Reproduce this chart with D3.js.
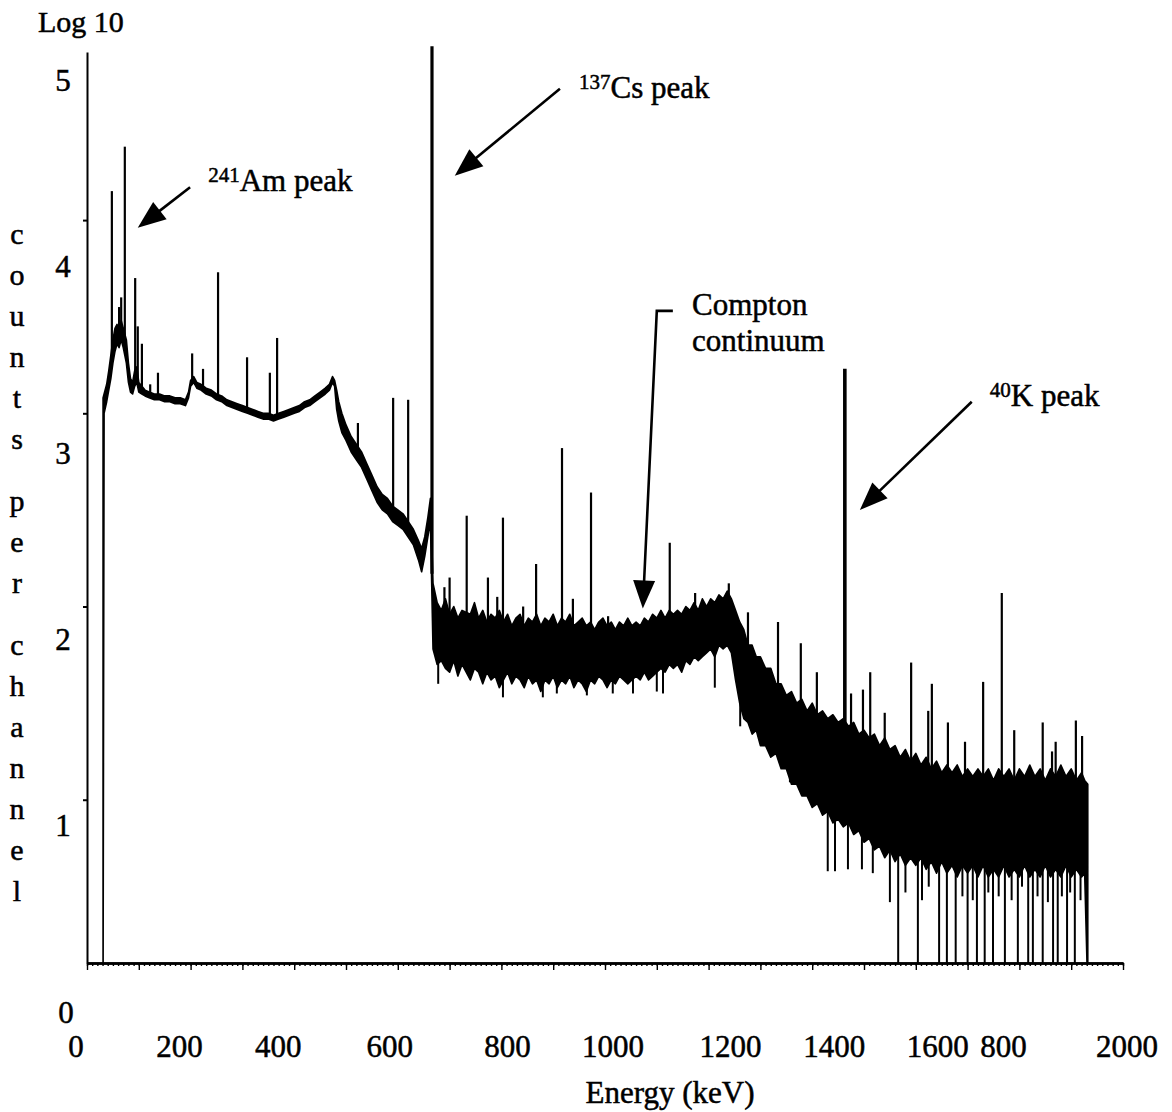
<!DOCTYPE html>
<html>
<head>
<meta charset="utf-8">
<script src="https://cdn.jsdelivr.net/npm/d3@7"></script>
<style>
  html, body { margin: 0; padding: 0; background: #fff; }
  svg { display: block; }
  text { font-family: "Liberation Serif", "Times New Roman", serif; fill: #000; stroke: #000; stroke-width: 0.5px; }
</style>
</head>
<body>
<svg id="chart" width="1172" height="1112"></svg>
<script>
// Spectrum: energy (keV) and log10 counts per channel.
// The noisy trace is kept as an upper and lower edge of the black band.
const bandE = [31, 33, 38, 42, 46, 50, 54, 58, 62, 66, 70, 76, 80, 84, 88, 92, 96, 100, 106, 112,
  120, 130, 140, 150, 160, 170, 180, 190, 196, 200, 206, 212, 220, 230, 240, 250, 260, 270, 280, 290,
  300, 310, 320, 330, 340, 350, 360, 370, 380, 390, 400, 410, 420, 430, 440, 450, 460, 468, 474, 478,
  482, 486, 492, 500, 510, 520, 530, 540, 550, 560, 570, 580, 590, 600, 610, 620, 630, 640, 646, 652,
  658, 663, 668, 676, 684, 692, 700, 708, 716, 724, 740, 748, 756, 764, 772, 780, 788, 796, 804, 812,
  820, 828, 836, 844, 852, 860, 868, 876, 884, 892, 900, 908, 916, 924, 932, 940, 948, 956, 964, 972,
  980, 988, 996, 1004, 1012, 1020, 1028, 1036, 1044, 1052, 1060, 1068, 1076, 1084, 1092, 1100, 1108, 1116, 1124, 1132,
  1140, 1148, 1156, 1164, 1172, 1180, 1188, 1196, 1204, 1212, 1220, 1228, 1236, 1244, 1252, 1260, 1268, 1276, 1284, 1292,
  1300, 1310, 1320, 1330, 1340, 1350, 1360, 1370, 1380, 1390, 1400, 1410, 1420, 1430, 1440, 1450, 1460, 1470, 1480, 1490,
  1500, 1510, 1520, 1530, 1540, 1550, 1560, 1570, 1580, 1590, 1600, 1610, 1620, 1630, 1640, 1650, 1660, 1670, 1680, 1690,
  1700, 1710, 1720, 1730, 1740, 1750, 1760, 1770, 1780, 1790, 1800, 1810, 1820, 1830, 1840, 1850, 1860, 1870, 1880, 1890,
  1900, 1910, 1920, 1926, 1932];
const bandHi = [3.08, 3.10, 3.15, 3.22, 3.30, 3.38, 3.44, 3.46, 3.42, 3.48, 3.44, 3.38, 3.26, 3.18, 3.16, 3.22, 3.24, 3.16, 3.14, 3.12,
  3.11, 3.10, 3.10, 3.09, 3.09, 3.08, 3.08, 3.07, 3.11, 3.17, 3.19, 3.16, 3.15, 3.13, 3.12, 3.10, 3.09, 3.07, 3.06, 3.05,
  3.04, 3.03, 3.02, 3.01, 3.00, 3.00, 2.99, 3.00, 3.01, 3.02, 3.03, 3.04, 3.06, 3.07, 3.09, 3.11, 3.13, 3.15, 3.19, 3.17,
  3.12, 3.06, 3.00, 2.94, 2.88, 2.84, 2.80, 2.74, 2.68, 2.62, 2.58, 2.56, 2.52, 2.50, 2.48, 2.44, 2.40, 2.34, 2.30, 2.36,
  2.46, 2.56, 2.12, 2.02, 1.98, 2.04, 1.96, 2.00, 1.94, 1.98, 1.96, 2.02, 1.94, 1.98, 1.92, 1.96, 1.94, 1.98, 1.92, 1.96,
  1.90, 1.94, 1.96, 1.90, 1.94, 1.92, 1.96, 1.90, 1.94, 1.92, 1.96, 1.90, 1.94, 1.92, 1.96, 1.90, 1.92, 1.94, 1.90, 1.92,
  1.88, 1.92, 1.94, 1.90, 1.92, 1.88, 1.92, 1.90, 1.94, 1.90, 1.92, 1.90, 1.94, 1.92, 1.96, 1.94, 1.98, 1.94, 1.98, 1.96,
  1.98, 1.96, 2.00, 1.98, 2.02, 1.98, 2.04, 2.00, 2.04, 2.02, 2.06, 2.04, 2.08, 2.04, 1.98, 1.92, 1.88, 1.80, 1.80, 1.74,
  1.74, 1.68, 1.68, 1.60, 1.60, 1.54, 1.56, 1.50, 1.52, 1.46, 1.50, 1.44, 1.46, 1.42, 1.44, 1.40, 1.42, 1.38, 1.40, 1.34,
  1.36, 1.32, 1.34, 1.28, 1.32, 1.26, 1.28, 1.22, 1.26, 1.20, 1.24, 1.18, 1.22, 1.16, 1.20, 1.14, 1.18, 1.14, 1.18, 1.12,
  1.16, 1.12, 1.16, 1.12, 1.16, 1.10, 1.16, 1.12, 1.16, 1.10, 1.16, 1.12, 1.18, 1.12, 1.16, 1.10, 1.16, 1.12, 1.18, 1.12,
  1.16, 1.10, 1.14, 1.10, 1.08];
const bandLo = [0.00, 3.00, 3.06, 3.12, 3.18, 3.26, 3.32, 3.36, 3.34, 3.38, 3.34, 3.26, 3.16, 3.11, 3.10, 3.14, 3.16, 3.11, 3.10, 3.09,
  3.08, 3.07, 3.07, 3.06, 3.06, 3.05, 3.05, 3.04, 3.08, 3.14, 3.16, 3.13, 3.12, 3.10, 3.09, 3.07, 3.06, 3.04, 3.03, 3.02,
  3.01, 3.00, 2.99, 2.98, 2.97, 2.97, 2.96, 2.97, 2.98, 2.99, 3.00, 3.01, 3.03, 3.04, 3.06, 3.08, 3.10, 3.12, 3.16, 3.14,
  3.02, 2.96, 2.90, 2.86, 2.80, 2.76, 2.72, 2.66, 2.60, 2.54, 2.50, 2.48, 2.44, 2.42, 2.40, 2.36, 2.32, 2.24, 2.18, 2.26,
  2.36, 2.44, 1.78, 1.70, 1.72, 1.68, 1.66, 1.72, 1.64, 1.70, 1.62, 1.68, 1.66, 1.60, 1.66, 1.62, 1.64, 1.58, 1.62, 1.66,
  1.60, 1.64, 1.62, 1.58, 1.64, 1.60, 1.62, 1.56, 1.62, 1.60, 1.64, 1.58, 1.62, 1.60, 1.64, 1.58, 1.62, 1.60, 1.56, 1.62,
  1.60, 1.64, 1.62, 1.58, 1.62, 1.60, 1.64, 1.62, 1.60, 1.62, 1.64, 1.62, 1.66, 1.62, 1.64, 1.66, 1.68, 1.66, 1.70, 1.68,
  1.70, 1.66, 1.72, 1.70, 1.74, 1.72, 1.74, 1.76, 1.78, 1.74, 1.80, 1.78, 1.80, 1.76, 1.62, 1.50, 1.42, 1.40, 1.34, 1.36,
  1.28, 1.28, 1.22, 1.24, 1.16, 1.16, 1.08, 1.08, 1.02, 1.02, 0.96, 0.98, 0.92, 0.94, 0.88, 0.90, 0.86, 0.88, 0.82, 0.84,
  0.78, 0.80, 0.74, 0.76, 0.70, 0.74, 0.68, 0.72, 0.66, 0.70, 0.66, 0.70, 0.64, 0.68, 0.62, 0.68, 0.62, 0.66, 0.60, 0.66,
  0.62, 0.66, 0.60, 0.66, 0.60, 0.64, 0.60, 0.66, 0.60, 0.64, 0.60, 0.66, 0.60, 0.64, 0.60, 0.66, 0.60, 0.64, 0.60, 0.66,
  0.60, 0.64, 0.60, 0.62, 0.00];

// Peaks rising out of the trace
const peakE = [48, 62, 66, 73, 93, 98, 106, 122, 137, 203, 224, 253, 309, 353, 367, 523, 591, 620,
  666, 690, 700, 733, 774, 792, 803, 842, 867, 917, 938, 973, 1006, 1125, 1174, 1239,
  1276, 1334, 1378, 1409, 1463, 1475, 1498, 1512, 1540, 1591, 1624, 1631, 1662, 1695, 1730, 1766,
  1790, 1845, 1863, 1870, 1909, 1921];
const peakV = [4.15, 3.55, 3.60, 4.38, 3.70, 3.45, 3.36, 3.15, 3.21, 3.31, 3.23, 3.73, 3.29, 3.21, 3.39, 2.95, 3.08, 3.07,
  4.90, 2.10, 2.15, 2.47, 2.15, 2.05, 2.46, 2.00, 2.22, 2.82, 2.04, 2.59, 1.95, 2.33, 2.07, 2.12,
  1.97, 1.92, 1.81, 1.66, 3.23, 1.55, 1.57, 1.66, 1.45, 1.71, 1.46, 1.60, 1.40, 1.30, 1.61, 2.07,
  1.36, 1.40, 1.25, 1.30, 1.41, 1.33];

// Downward drops of the trace (0 means down to the axis)
const dipE = [678, 803, 880, 907, 965, 1015, 1054, 1100, 1112, 1212, 1261, 1303, 1357, 1376, 1402,
  1430, 1444, 1469, 1496, 1517, 1550, 1566, 1580, 1604, 1612, 1625, 1645, 1660, 1677, 1690, 1700,
  1710, 1718, 1733, 1740, 1749, 1760, 1772, 1785, 1797, 1805, 1817, 1826, 1835, 1845, 1855, 1865,
  1874, 1882, 1892, 1898, 1907, 1918];
const dipV = [1.60, 1.53, 1.53, 1.55, 1.54, 1.55, 1.55, 1.56, 1.55, 1.58, 1.38, 1.32, 1.09, 1.05, 0.98,
  0.63, 0.63, 0.64, 0.64, 0.62, 0.47, 0, 0.52, 0, 0.48, 0.55, 0, 0, 0, 0.50, 0,
  0.48, 0, 0, 0.52, 0, 0.50, 0, 0.48, 0, 0.55, 0, 0, 0.50, 0, 0.47, 0,
  0, 0.50, 0, 0.52, 0, 0.48];

// Axis labels as printed (the 1800 tick reads "800" in the original)
const xTickVals = [0, 200, 400, 600, 800, 1000, 1200, 1400, 1600, 1800, 2000];
const xTickText = ['0', '200', '400', '600', '800', '1000', '1200', '1400', '1600', '800', '2000'];
const yTickVals = [0, 1, 2, 3, 4, 5];
const yTickText = ['0', '1', '2', '3', '4', '5'];

// Annotations, placed in data units (keV, log10)
const notes = [
  { sup: '241', txt: 'Am peak', at: [234, 4.15], tail: [199, 4.17], tip: [98, 3.96] },
  { sup: '137', txt: 'Cs peak', at: [950, 4.63], tail: [913, 4.68], tip: [710, 4.23] },
  { sup: '40', txt: 'K peak', at: [1743, 3.04], tail: [1708, 3.06], tip: [1492, 2.50] }
];

const svg = d3.select('#chart');

const x = d3.scaleLinear().domain([0, 2000]).range([87, 1123]);
const y = d3.scaleLinear().domain([0.155, 4.87]).range([963, 52]);
// the printed numbers sit lower than the tick marks in the original
const yLab = d3.scaleLinear().domain([0, 5]).range([1012, 80]);

svg.append('defs').append('clipPath').attr('id', 'plot')
  .append('rect')
  .attr('x', x(0)).attr('y', 0)
  .attr('width', x(2000) - x(0)).attr('height', y(0.155));

const plot = svg.append('g').attr('clip-path', 'url(#plot)');

const band = bandE.map((e, i) => ({ e: e, hi: bandHi[i], lo: bandLo[i] }));

plot.append('path')
  .datum(band)
  .attr('d', d3.area().x(d => x(d.e)).y0(d => y(d.lo)).y1(d => y(d.hi)))
  .attr('fill', '#000')
  .attr('stroke', '#000')
  .attr('stroke-width', 1.6)
  .attr('stroke-linejoin', 'round');

// middle of the band at a given energy, so spikes start from the trace
function bandMid(e) {
  let i = d3.bisectLeft(bandE, e);
  if (i <= 0) i = 1;
  if (i >= bandE.length) i = bandE.length - 1;
  const a = band[i - 1], b = band[i];
  const t = (e - a.e) / (b.e - a.e);
  const ma = a.lo === 0 ? a.hi : (a.hi + a.lo) / 2;
  const mb = b.lo === 0 ? b.hi : (b.hi + b.lo) / 2;
  return ma + (mb - ma) * t;
}

plot.append('g').selectAll('line')
  .data(peakE.map((e, i) => ({ e: e, v: peakV[i] })))
  .join('line')
  .attr('x1', d => x(d.e)).attr('x2', d => x(d.e))
  .attr('y1', d => y(bandMid(d.e))).attr('y2', d => y(d.v))
  .attr('stroke', '#000')
  .attr('stroke-width', d => d.v > 4.5 ? 3.2 : (d.v > 3.2 && d.e > 1000 ? 3.6 : 2.2));

plot.append('g').selectAll('line')
  .data(dipE.map((e, i) => ({ e: e, v: dipV[i] })))
  .join('line')
  .attr('x1', d => x(d.e)).attr('x2', d => x(d.e))
  .attr('y1', d => y(bandMid(d.e))).attr('y2', d => y(d.v))
  .attr('stroke', '#000')
  .attr('stroke-width', 2);

// Axes
const xAxisG = svg.append('g').attr('transform', `translate(0,${y(0.155)})`);
xAxisG.append('g').call(d3.axisBottom(x).tickValues(d3.range(0, 2001, 10)).tickSize(3).tickSizeOuter(0).tickFormat(''));
xAxisG.append('g').call(d3.axisBottom(x).tickValues(d3.range(0, 2001, 100)).tickSize(7).tickSizeOuter(0).tickFormat(''));
xAxisG.selectAll('path.domain').attr('stroke', '#000').attr('stroke-width', 2.6);
xAxisG.selectAll('.tick line').attr('stroke', '#000').attr('stroke-width', 1.4);

const yAxisG = svg.append('g').attr('transform', `translate(${x(0)},0)`);
yAxisG.call(d3.axisLeft(y).tickValues([1, 2, 3, 4]).tickSize(4).tickSizeOuter(0).tickFormat(''));
yAxisG.select('path.domain').attr('stroke', '#000').attr('stroke-width', 2);
yAxisG.selectAll('.tick line').attr('stroke', '#000').attr('stroke-width', 2);

// Tick labels
const xLabelNudge = [-11, -11, -16, -8, 6, 8, 22, 22, 22, -16, 4];
svg.append('g').selectAll('text')
  .data(xTickVals)
  .join('text')
  .attr('x', (d, i) => x(d) + xLabelNudge[i])
  .attr('y', 1057)
  .attr('text-anchor', 'middle')
  .attr('font-size', 31)
  .text((d, i) => xTickText[i]);

svg.append('g').selectAll('text')
  .data(yTickVals)
  .join('text')
  .attr('x', d => d === 0 ? 66 : 63)
  .attr('y', d => yLab(d))
  .attr('dy', '0.35em')
  .attr('text-anchor', 'middle')
  .attr('font-size', 31)
  .text((d, i) => yTickText[i]);

// Axis titles
svg.append('text')
  .attr('x', 38).attr('y', 32)
  .attr('font-size', 30)
  .text('Log 10');

svg.append('text')
  .attr('x', 670).attr('y', 1103)
  .attr('text-anchor', 'middle')
  .attr('font-size', 31)
  .text('Energy (keV)');

let ly = 233;
const stacked = [];
for (const ch of 'counts per channel') {
  if (ch === ' ') { ly += 21; continue; }
  stacked.push({ ch: ch, y: ly });
  ly += 41;
}
svg.append('g').selectAll('text')
  .data(stacked)
  .join('text')
  .attr('x', 17).attr('y', d => d.y)
  .attr('dy', '0.35em')
  .attr('text-anchor', 'middle')
  .attr('font-size', 30)
  .text(d => d.ch);

// Arrows
function arrow(g, pts) {
  const n = pts.length;
  const [tx, ty] = pts[n - 1];
  const [px, py] = pts[n - 2];
  const len = Math.hypot(tx - px, ty - py);
  const ux = (tx - px) / len, uy = (ty - py) / len;
  const headL = 28, headW = 11;
  const bx = tx - ux * headL, by = ty - uy * headL;
  const linePts = pts.slice(0, n - 1).concat([[bx + ux * 2, by + uy * 2]]);
  g.append('path')
    .attr('d', d3.line()(linePts))
    .attr('fill', 'none')
    .attr('stroke', '#000')
    .attr('stroke-width', 2.6);
  g.append('path')
    .attr('d', d3.line()([[tx, ty], [bx - uy * headW, by + ux * headW], [bx + uy * headW, by - ux * headW]]) + 'Z')
    .attr('fill', '#000');
}

const annG = svg.append('g');
notes.forEach(n => {
  arrow(annG, [[x(n.tail[0]), y(n.tail[1])], [x(n.tip[0]), y(n.tip[1])]]);
  const t = annG.append('text')
    .attr('x', x(n.at[0])).attr('y', y(n.at[1]))
    .attr('font-size', 31);
  t.append('tspan').attr('font-size', 21).attr('dy', -9).text(n.sup);
  t.append('tspan').attr('dy', 9).text(n.txt);
});

// Compton continuum: bracketed pointer
arrow(annG, [[x(1131), y(3.53)], [x(1100), y(3.53)], [x(1073), y(1.99)]]);
annG.append('text')
  .attr('x', x(1168)).attr('y', y(3.51))
  .attr('font-size', 31)
  .text('Compton');
annG.append('text')
  .attr('x', x(1168)).attr('y', y(3.32))
  .attr('font-size', 31)
  .text('continuum');
</script>
</body>
</html>
